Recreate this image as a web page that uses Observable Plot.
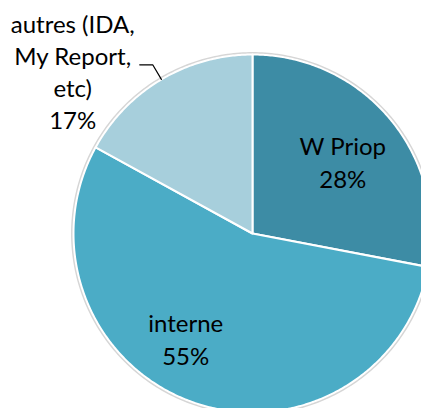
<!DOCTYPE html>
<html><head><meta charset="utf-8">
<script src="https://cdn.jsdelivr.net/npm/d3@7"></script>
<script src="https://cdn.jsdelivr.net/npm/@observablehq/plot@0.6"></script>
<style>html,body{margin:0;padding:0;background:#fff;overflow:hidden} svg{display:block}</style>
</head><body><div id="chart"></div>
<script>
const categories = ["W Priop", "interne", "autres"];
const labelTexts = ["W Priop", "interne", "autres (IDA,\nMy Report,\netc)"];
const values = [28, 55, 17];
const colors = ["#3d8ca5", "#4bacc6", "#a7cfdc"];

const W = 421, H = 408, R = 179, cx = 252, cy = 233;
const total = d3.sum(values);
const arcs = d3.pie().sort(null).value(d => d)(values);

const polys = [];
arcs.forEach((p, i) => {
  polys.push({cat: categories[i], x: 0, y: 0});
  const n = Math.max(2, Math.ceil((p.endAngle - p.startAngle) / 0.01));
  for (let k = 0; k <= n; k++) {
    const t = p.startAngle + (p.endAngle - p.startAngle) * k / n;
    polys.push({cat: categories[i], x: R * Math.sin(t), y: R * Math.cos(t)});
  }
});
const ring = d3.range(0, 361).map(k => {
  const t = k * Math.PI / 180;
  return {x: (R + 1.2) * Math.sin(t), y: (R + 1.2) * Math.cos(t)};
});

const labels = arcs.map((p, i) => {
  const mid = (p.startAngle + p.endAngle) / 2;
  const pct = Math.round(values[i] / total * 100) + "%";
  const rr = i === 2 ? 1.095 : 0.64;
  return {cat: categories[i], mid, text: labelTexts[i] + "\n" + pct,
          x: rr * R * Math.sin(mid), y: rr * R * Math.cos(mid)};
});
const a3 = labels[2];
const leader = [
  {x: R * Math.sin(a3.mid), y: R * Math.cos(a3.mid)},
  {x: a3.x, y: a3.y},
  {x: a3.x - 13, y: a3.y}
];

const font = "Lato, 'Open Sans', sans-serif";
const chart = Plot.plot({
  width: W, height: H, margin: 0,
  x: {domain: [-cx, W - cx], axis: null},
  y: {domain: [cy - H, cy], axis: null},
  color: {domain: categories, range: colors},
  style: {fontFamily: font, background: "#fff"},
  marks: [
    Plot.line(ring, {x: "x", y: "y", stroke: "#d6d6d6", strokeWidth: 2.5, curve: "linear-closed", clip: true}),
    Plot.line(polys, {x: "x", y: "y", z: "cat", fill: "cat", stroke: "#fff", strokeWidth: 2, strokeLinejoin: "round", curve: "linear-closed", clip: true}),
    Plot.line(leader, {x: "x", y: "y", stroke: "#000", strokeWidth: 1.2}),
    Plot.text(labels.filter(d => d.cat === "W Priop"), {x: "x", y: "y", text: "text", fontSize: 24, lineHeight: 1.375, fill: "#000", dx: 2, dy: 0}),
    Plot.text(labels.filter(d => d.cat === "interne"), {x: "x", y: "y", text: "text", fontSize: 24, lineHeight: 1.375, fill: "#000", dx: -28, dy: -3}),
    Plot.text(labels.filter(d => d.cat === "autres"), {x: "x", y: "y", text: "text", fontSize: 24, lineHeight: 1.325, fill: "#000", dx: -80, dy: 6})
  ]
});
document.getElementById("chart").appendChild(chart);
</script>
</body></html>
